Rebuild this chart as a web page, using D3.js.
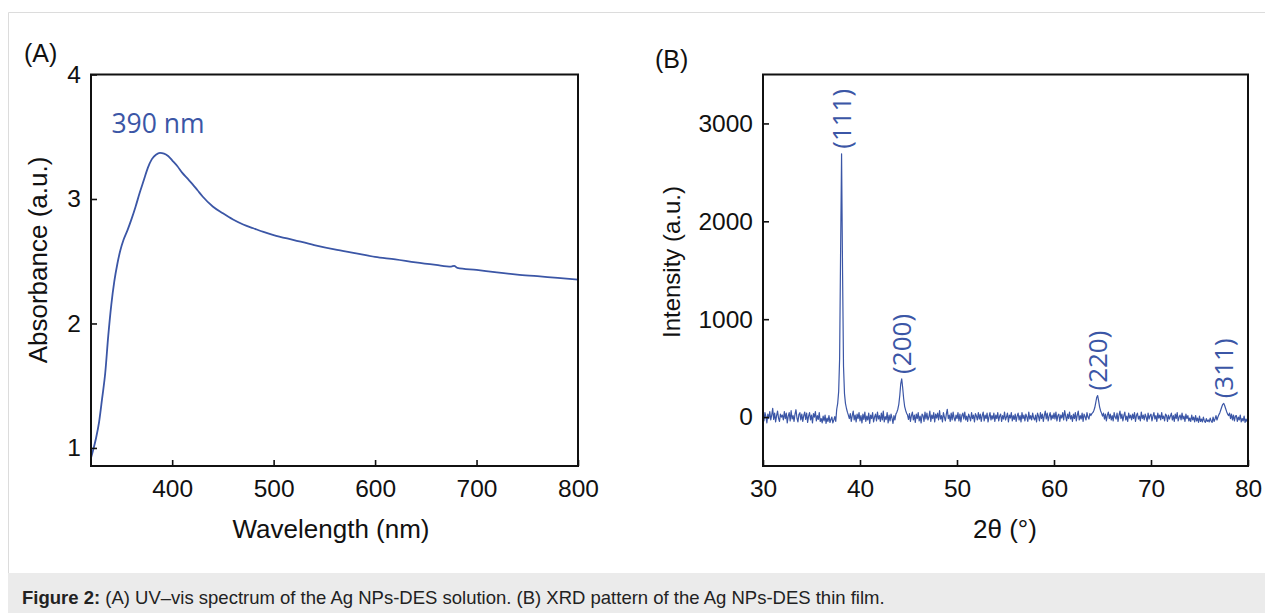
<!DOCTYPE html>
<html>
<head>
<meta charset="utf-8">
<script src="https://cdn.jsdelivr.net/npm/d3@7"></script>
<style>
  body { margin: 0; background: #fff; }
  svg { display: block; }
</style>
</head>
<body>
<svg id="chart" width="1265" height="613"></svg>
<script>
// Panel A : UV-vis spectrum
const wavelength = [320, 322, 325, 328, 331, 334, 337, 340, 343, 346, 349, 352, 356, 360, 364, 368, 372, 376, 380, 384, 388, 392, 396, 400, 405, 410, 415, 420, 425, 430, 440, 450, 460, 470, 480, 490, 500, 520, 540, 560, 580, 600, 620, 640, 660, 675, 678, 681, 700, 720, 740, 760, 780, 800];
const absorbance = [0.92, 0.98, 1.08, 1.21, 1.40, 1.60, 1.90, 2.15, 2.34, 2.48, 2.59, 2.67, 2.75, 2.84, 2.94, 3.05, 3.15, 3.25, 3.32, 3.355, 3.37, 3.365, 3.345, 3.31, 3.265, 3.21, 3.165, 3.12, 3.07, 3.02, 2.94, 2.885, 2.835, 2.795, 2.765, 2.735, 2.71, 2.67, 2.63, 2.595, 2.565, 2.535, 2.515, 2.49, 2.47, 2.457, 2.463, 2.447, 2.43, 2.41, 2.393, 2.38, 2.366, 2.353];
const uvTicksX = [400, 500, 600, 700, 800];
const uvTicksY = [1, 2, 3, 4];
const uvPeakLabel = '390 nm';

// Panel B : XRD scan, 30 to 80 deg, step 0.1 deg (counts)
const xrdStart = 30;
const xrdStep = 0.1;
const xrdCounts = [
  15, -40, 45, 5, -60, 30, -15, 55, -30, 20, 90, -25, 40, -50, 15, 60, -10, -45, 30, 0,
  20, -30, 55, -15, 40, -60, 10, 45, -40, 65, -20, 15, -45, 30, 75, -10, -50, 25, 45, -30,
  30, -45, 15, 50, -25, 40, -55, 10, 45, -30, 20, -60, 35, 0, 55, -40, 15, -25, 45, -45,
  -15, -60, 10, -40, 20, -65, -10, -45, 15, -55, -25, 0, -60, -30, 5, -45, 80, 140, 260, 600,
  1700, 2690, 1500, 520, 240, 140, 90, 50, 20, -15, 35, -45, 15, 60, -30, 20, -50, 30, -15, 45,
  -40, 15, -60, 30, -25, 50, -45, 10, -30, 40, -65, 20, -15, 45, -50, 0, 30, -40, 50, -20,
  15, -45, 40, -30, 60, -50, 5, -25, 45, -60, 20, -40, 30, -10, -65, 15, -30, 30, 50, 80,
  130, 220, 340, 390, 300, 190, 110, 70, 40, 20, -25, 35, -45, 15, 50, -30, 20, -55, 30, -15,
  45, -40, 10, -60, 30, 15, -45, 50, -20, 40, -30, 0, 60, -45, 20, -15, 45, -50, 30, -10,
  40, -30, 65, -20, 15, -50, 45, 0, -40, 30, 80, -15, 20, -45, 40, -30, 50, -10, -40, 20,
  -15, 45, -40, 30, -50, 15, 40, -20, 50, -30, 10, -45, 30, 0, -40, 45, -15, 20, -50, 35,
  10, -30, 45, -20, 30, -45, 15, 50, -40, 20, -15, 40, -50, 5, 45, -30, 15, -20, 40, -45,
  20, -15, 45, -40, 10, 30, -45, 15, -20, 50, -30, 0, 40, -50, 20, -10, 45, -40, 15, -25,
  30, -45, 10, 40, -30, 15, -50, 45, -15, 20, -40, 30, 0, -45, 50, -20, 15, -30, 40, -10,
  -30, 20, -50, 40, 10, -40, 45, -15, 30, -45, 15, 60, -20, 40, -40, 10, 45, -30, 20, -15,
  40, -20, 50, -40, 15, 30, -45, 20, -10, 45, -30, 65, 10, -40, 30, -15, 50, -20, 15, -45,
  30, -15, 45, -40, 20, 60, -30, 15, -20, 40, -45, 30, 5, -30, 45, 0, -20, 35, 15, 35,
  45, 65, 95, 145, 200, 220, 165, 105, 65, 40, 10, 40, -20, 30, -40, 20, 50, -15, 30, -30,
  15, -40, 45, 0, -20, 40, -45, 20, 60, -15, 30, -40, 15, 50, -30, 10, -45, 40, -10, 20,
  -30, 30, -15, 45, -45, 15, 40, -20, 10, -40, 50, -15, 20, -30, 30, 0, -45, 40, -20, 15,
  30, -40, 10, 45, -20, 15, -45, 40, -10, 20, -30, 45, -15, 10, -40, 30, 15, -45, 20, -20,
  10, 40, -30, 15, -45, 30, -15, 45, -40, 0, 20, -30, 40, -20, 10, -45, 30, -15, 15, -40,
  -10, -45, 20, -30, 0, -50, 15, -40, -10, -55, 10, -45, -20, -50, 0, -40, -55, -15, -45, -30,
  -50, -10, -40, -55, 0, -45, -20, 15, -30, 0, 25, 45, 75, 105, 130, 140, 115, 85, 55, 30,
  15, 40, -15, 30, -30, 20, -40, 10, 15, -45, 0, -30, 20, -50, -15, -40, 10, -55, -20, -45,
  -30
];
const xrdTicksX = [30, 40, 50, 60, 70, 80];
const xrdTicksY = [0, 1000, 2000, 3000];
const hklLabels = ['(111)', '(200)', '(220)', '(311)'];
const hklAngle = [38.1, 44.3, 64.5, 77.5];
const hklApex = [2690, 390, 220, 140];

const caption = ' (A) UV\u2013vis spectrum of the Ag NPs-DES solution. (B) XRD pattern of the Ag NPs-DES thin film.';

const BLUE = '#3b56a6';
const AXIS_FONT = '"Liberation Sans", Arial, sans-serif';
const LABEL_FONT = '"Open Sans", "Noto Sans", sans-serif';

const svg = d3.select('#chart');

// Cadre gris et bandeau de légende
function drawFrame() {
    svg.append('rect')
        .attr('x', 8).attr('y', 573).attr('width', 1257).attr('height', 40)
        .attr('fill', '#ebebeb');
    svg.append('path')
        .attr('d', 'M8.5,573 V12.5 H1265')
        .attr('fill', 'none').attr('stroke', '#dcdcdc').attr('stroke-width', 1);

    const t = svg.append('text')
        .attr('x', 22).attr('y', 604)
        .attr('font-family', AXIS_FONT).attr('font-size', 18.5)
        .attr('fill', '#222');
    t.append('tspan').attr('font-weight', 'bold').text('Figure 2:');
    t.append('tspan').text(caption);
}

// Axes communs (ticks vers l'intérieur + boîte)
function drawAxes(g, x, y, ticksX, ticksY, fmtY) {
    const [x0, x1] = x.range();
    const [y0, y1] = y.range();

    const ax = g.append('g')
        .attr('transform', `translate(0,${y0})`)
        .call(d3.axisBottom(x).tickValues(ticksX).tickSizeInner(-6).tickSizeOuter(0).tickPadding(13.5));
    const ay = g.append('g')
        .attr('transform', `translate(${x0},0)`)
        .call(d3.axisLeft(y).tickValues(ticksY).tickSizeInner(-6).tickSizeOuter(0).tickPadding(10).tickFormat(fmtY));

    [ax, ay].forEach(a => {
        a.select('.domain').remove();
        a.selectAll('line').attr('stroke', '#111').attr('stroke-width', 1.6);
        a.selectAll('text')
            .attr('font-family', AXIS_FONT).attr('font-size', 24.5).attr('fill', '#111');
    });

    g.append('rect')
        .attr('x', x0).attr('y', y1)
        .attr('width', x1 - x0).attr('height', y0 - y1)
        .attr('fill', 'none').attr('stroke', '#111').attr('stroke-width', 2);
}

function axisTitles(g, xTitle, yTitle, xc, xy, yx, yc, ySize, panel, px, py) {
    g.append('text')
        .attr('x', xc).attr('y', xy).attr('text-anchor', 'middle')
        .attr('font-family', AXIS_FONT).attr('font-size', 26).attr('fill', '#111')
        .text(xTitle);
    g.append('text')
        .attr('transform', `translate(${yx},${yc}) rotate(-90)`)
        .attr('text-anchor', 'middle')
        .attr('font-family', AXIS_FONT).attr('font-size', ySize).attr('fill', '#111')
        .text(yTitle);
    g.append('text')
        .attr('x', px).attr('y', py)
        .attr('font-family', AXIS_FONT).attr('font-size', 25).attr('fill', '#111')
        .text(panel);
}

// Panel A
function drawUV() {
    const g = svg.append('g');
    const x = d3.scaleLinear().domain([320, 800]).range([91, 578]);
    const y = d3.scaleLinear().domain([0.855, 4]).range([466, 74.5]);

    const data = wavelength.map((w, i) => ({ x: w, y: absorbance[i] }));
    const line = d3.line().x(d => x(d.x)).y(d => y(d.y)).curve(d3.curveMonotoneX);

    g.append('path')
        .datum(data)
        .attr('d', line)
        .attr('fill', 'none').attr('stroke', BLUE).attr('stroke-width', 1.8);

    drawAxes(g, x, y, uvTicksX, uvTicksY, d3.format('d'));

    g.append('text')
        .attr('x', x(386)).attr('y', y(3.53))
        .attr('text-anchor', 'middle')
        .attr('font-family', LABEL_FONT).attr('font-size', 26.5).attr('fill', BLUE)
        .text(uvPeakLabel);

    axisTitles(g, 'Wavelength (nm)', 'Absorbance (a.u.)', 331, 538, 47, 260, 26, '(A)', 24, 62);
}

// Panel B
function drawXRD() {
    const g = svg.append('g');
    const x = d3.scaleLinear().domain([30, 80]).range([763, 1248]);
    const y = d3.scaleLinear().domain([-500, 3500]).range([466, 74.5]);

    const data = xrdCounts.map((c, i) => ({ x: xrdStart + i * xrdStep, y: c }));
    const line = d3.line().x(d => x(d.x)).y(d => y(d.y));

    g.append('path')
        .datum(data)
        .attr('d', line)
        .attr('fill', 'none').attr('stroke', BLUE).attr('stroke-width', 1.2)
        .attr('stroke-linejoin', 'round');

    drawAxes(g, x, y, xrdTicksX, xrdTicksY, d3.format('d'));

    g.selectAll('.hkl')
        .data(hklLabels)
        .enter()
        .append('text')
        .attr('class', 'hkl')
        .attr('transform', (d, i) => `translate(${x(hklAngle[i])},${y(hklApex[i]) - 5}) rotate(-90)`)
        .attr('dy', '0.35em')
        .attr('font-family', LABEL_FONT).attr('font-size', 26).attr('fill', BLUE)
        .text(d => d);

    axisTitles(g, '2\u03b8 (\u00b0)', 'Intensity (a.u.)', 1005, 538, 680, 262, 24, '(B)', 655, 68);
}

drawFrame();
drawUV();
drawXRD();
</script>
</body>
</html>
